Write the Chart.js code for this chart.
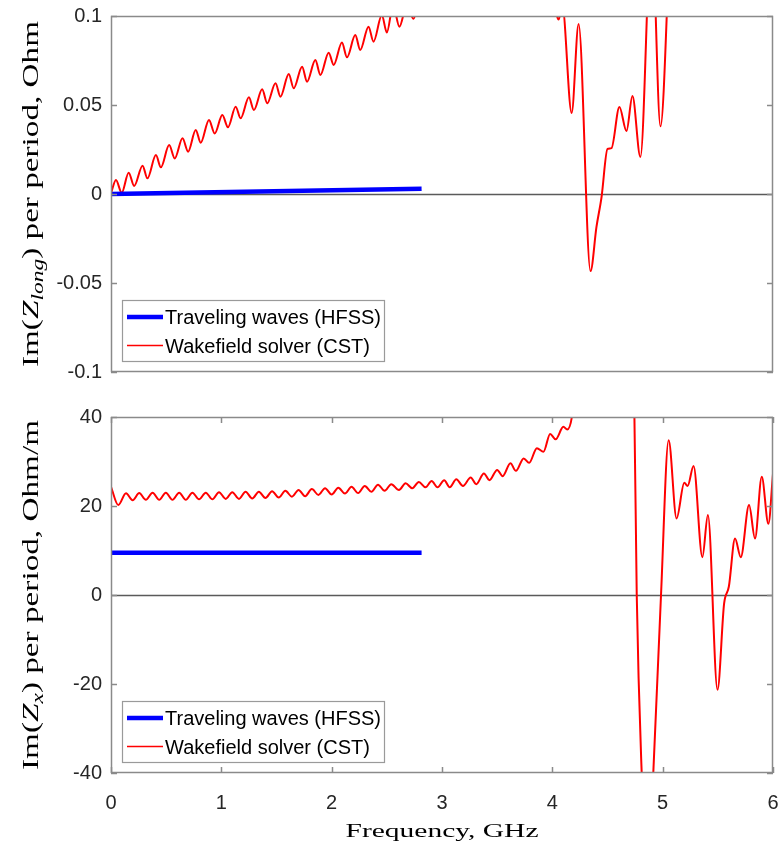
<!DOCTYPE html>
<html>
<head>
<meta charset="utf-8">
<script src="https://cdn.jsdelivr.net/npm/chart.js@4.4.1/dist/chart.umd.min.js"></script>
<style>
  html, body { margin: 0; padding: 0; background: #fff; }
  #wrap { position: relative; width: 783px; height: 842px; }
  canvas { position: absolute; left: 0; }
  #top { top: 0; }
  #bottom { top: 395px; }
</style>
</head>
<body>
<div id="wrap">
  <canvas id="top" width="783" height="395"></canvas>
  <canvas id="bottom" width="783" height="447"></canvas>
</div>
<script>
// axis ticks
const freqTicks = [0, 1, 2, 3, 4, 5, 6];
const zlongTicks = [-0.1, -0.05, 0, 0.05, 0.1];
const zxTicks = [-40, -20, 0, 20, 40];

// traveling waves (HFSS), both panels
const hfssFreq = [0, 2.815];
const hfssZlong = [0, 0.003];
const hfssZx = [9.5, 9.5];

// wakefield solver (CST), longitudinal; values above 0.1 run off the top of the axes
const cstFreqLong = [0, 0.045, 0.097, 0.16, 0.21, 0.286, 0.33, 0.407, 0.452, 0.527,
  0.578, 0.648, 0.699, 0.768, 0.813, 0.888, 0.94, 1.009, 1.06, 1.13,
  1.175, 1.25, 1.295, 1.37, 1.416, 1.491, 1.536, 1.611, 1.656, 1.732,
  1.777, 1.852, 1.898, 1.973, 2.018, 2.093, 2.139, 2.214, 2.259, 2.334,
  2.379, 2.455, 2.50, 2.557, 2.614, 2.68, 2.741, 2.80, 3.2, 3.7,
  4.0, 4.057, 4.09, 4.175, 4.238, 4.346, 4.40, 4.446, 4.50, 4.536,
  4.608, 4.672, 4.726, 4.798, 4.90, 4.98, 5.08, 5.4, 6.0];
const cstZlong = [0.0004, 0.0079, 0.0007, 0.012, 0.0045, 0.0159, 0.0088, 0.0219, 0.015, 0.0275,
  0.020, 0.0313, 0.0238, 0.036, 0.0288, 0.0416, 0.034, 0.0444, 0.0375, 0.049,
  0.0425, 0.0543, 0.0472, 0.0588, 0.051, 0.0622, 0.0547, 0.0674, 0.0594, 0.0715,
  0.0631, 0.0753, 0.0669, 0.0794, 0.0725, 0.0851, 0.0768, 0.0893, 0.0809, 0.094,
  0.0856, 0.1005, 0.0907, 0.106, 0.094, 0.106, 0.0985, 0.11, 0.14, 0.2,
  0.115, 0.098, 0.106, 0.0455, 0.0955, -0.0433, -0.0185, -0.0017, 0.0253, 0.0258,
  0.0489, 0.0354, 0.055, 0.0208, 0.15, 0.038, 0.16, 0.3, 0.3];

// wakefield solver (CST), transverse
const cstFreqX = [0, 0.066, 0.136, 0.196, 0.256, 0.316, 0.377, 0.437, 0.497, 0.557,
  0.618, 0.678, 0.738, 0.798, 0.859, 0.919, 0.979, 1.04, 1.099, 1.16,
  1.22, 1.28, 1.34, 1.40, 1.46, 1.52, 1.58, 1.64, 1.70, 1.76,
  1.82, 1.88, 1.94, 2.00, 2.06, 2.12, 2.18, 2.24, 2.30, 2.36,
  2.42, 2.48, 2.54, 2.61, 2.67, 2.73, 2.79, 2.85, 2.906, 2.96,
  3.02, 3.07, 3.13, 3.19, 3.26, 3.31, 3.38, 3.43, 3.50, 3.55,
  3.62, 3.67, 3.74, 3.79, 3.86, 3.92, 3.98, 4.03, 4.10, 4.135,
  4.18, 4.25, 4.45, 4.65, 4.72, 4.744, 4.765, 4.81, 4.862, 4.915,
  4.985, 5.054, 5.126, 5.196, 5.226, 5.28, 5.36, 5.41, 5.497, 5.557,
  5.60, 5.656, 5.708, 5.783, 5.837, 5.898, 5.958, 6.0];
const cstZx = [24.3, 20.2, 22.85, 21.3, 22.9, 21.4, 23.0, 21.4, 23.0, 21.4,
  23.0, 21.4, 23.0, 21.5, 23.0, 21.5, 23.1, 21.6, 23.1, 21.6,
  23.2, 21.7, 23.2, 21.8, 23.3, 21.9, 23.4, 22.1, 23.6, 22.2,
  23.8, 22.5, 24.0, 22.6, 24.1, 22.8, 24.3, 22.9, 24.5, 23.2,
  24.8, 23.4, 24.9, 23.6, 25.1, 24.0, 25.4, 24.2, 25.6, 24.2,
  25.8, 24.2, 26.0, 24.5, 26.4, 24.9, 27.3, 25.8, 28.1, 26.7,
  29.6, 27.9, 30.7, 29.7, 33.0, 32.2, 36.2, 35.0, 37.8, 37.2,
  40.5, 60, 120, 90, 52, 40, 0, -40, -65, -40,
  0, 34.8, 17.2, 25.2, 24.5, 29.0, 8.5, 18.0, -21.3, -1.9,
  1.9, 12.7, 8.5, 20.2, 12.7, 26.6, 16.0, 27.2];

const LABELS = ['Traveling waves (HFSS)', 'Wakefield solver (CST)'];
const BLUE = '#0000ff';
const RED = '#ff0000';
const SANS = '"Liberation Sans", Arial, sans-serif';
const SERIF = '"Liberation Serif", "Times New Roman", serif';

const toXY = (xs, ys) => xs.map((x, i) => ({x: x, y: ys[i]}));

// draws a run of text pieces (different fonts / offsets) centred on (cx, cy)
function drawRuns(ctx, runs, cx, cy, angle, length) {
  ctx.save();
  ctx.translate(cx, cy);
  ctx.rotate(angle);
  let total = 0;
  runs.forEach(r => { ctx.font = r.font; r.w = ctx.measureText(r.text).width; total += r.w; });
  ctx.scale(length / total, 1);
  ctx.fillStyle = '#000';
  ctx.textBaseline = 'alphabetic';
  ctx.textAlign = 'left';
  let x = -total / 2;
  runs.forEach(r => { ctx.font = r.font; ctx.fillText(r.text, x, r.dy || 0); x += r.w; });
  ctx.restore();
}

// MATLAB-like axes box: zero line, frame with inward ticks, inset legend and axis titles
const axesBox = {
  id: 'axesBox',
  beforeDatasetsDraw(chart) {
    const {ctx, chartArea: a, scales} = chart;
    const y0 = Math.round(scales.y.getPixelForValue(0)) + 0.5;
    ctx.save();
    ctx.strokeStyle = '#5a5a5a';
    ctx.lineWidth = 1.3;
    ctx.beginPath();
    ctx.moveTo(a.left, y0);
    ctx.lineTo(a.right, y0);
    ctx.stroke();
    ctx.restore();
  },
  afterDatasetsDraw(chart, args, opts) {
    const {ctx, chartArea: a, scales} = chart;
    ctx.save();
    ctx.strokeStyle = '#8a8a8a';
    ctx.lineWidth = 1.5;
    ctx.strokeRect(a.left + 0.5, a.top + 0.5, a.right - a.left - 1, a.bottom - a.top - 1);
    const tl = 6;
    ctx.beginPath();
    scales.y.ticks.forEach(t => {
      const py = Math.round(scales.y.getPixelForValue(t.value)) + 0.5;
      ctx.moveTo(a.left, py); ctx.lineTo(a.left + tl, py);
      ctx.moveTo(a.right, py); ctx.lineTo(a.right - tl, py);
    });
    if (opts.xTicks) {
      scales.x.ticks.forEach(t => {
        const px = Math.round(scales.x.getPixelForValue(t.value)) + 0.5;
        ctx.moveTo(px, a.top); ctx.lineTo(px, a.top + tl);
        ctx.moveTo(px, a.bottom); ctx.lineTo(px, a.bottom - tl);
      });
    }
    ctx.stroke();

    // legend in the lower left corner
    const bx = a.left + 11, bh = 61, by = a.bottom - 11 - bh, bw = 262;
    ctx.fillStyle = '#fff';
    ctx.fillRect(bx, by, bw, bh);
    ctx.strokeStyle = '#9a9a9a';
    ctx.lineWidth = 1.2;
    ctx.strokeRect(bx + 0.5, by + 0.5, bw, bh);
    chart.data.datasets.forEach((ds, i) => {
      const cy = by + 17 + i * 28.5;
      ctx.strokeStyle = ds.borderColor;
      ctx.lineWidth = ds.legendWidth;
      ctx.beginPath();
      ctx.moveTo(bx + 5, cy);
      ctx.lineTo(bx + 41, cy);
      ctx.stroke();
      ctx.fillStyle = '#000';
      ctx.font = '20px ' + SANS;
      ctx.textBaseline = 'alphabetic';
      ctx.fillText(ds.label, bx + 43, cy + 7);
    });
    ctx.restore();

    // y axis title
    const cy = (a.top + a.bottom) / 2;
    drawRuns(ctx, opts.yTitle, 38, cy, -Math.PI / 2, opts.yTitleLength);
    if (opts.xTitle) {
      drawRuns(ctx, [{text: opts.xTitle, font: '19px ' + SERIF}],
        (a.left + a.right) / 2, chart.height - 5, 0, 193);
    }
  }
};

function yScale(ticks) {
  return {
    type: 'linear',
    min: ticks[0],
    max: ticks[ticks.length - 1],
    afterBuildTicks: s => { s.ticks = ticks.map(v => ({value: v})); },
    afterFit: s => { s.width = 111; s.paddingTop = 0; s.paddingBottom = 0; },
    grid: {display: false, drawTicks: false},
    border: {display: false},
    ticks: {
      font: {family: SANS, size: 20},
      color: '#262626',
      padding: 9,
      callback: v => String(v)
    }
  };
}

function xScale(show) {
  return {
    type: 'linear',
    min: 0,
    max: 6,
    display: show,
    afterBuildTicks: s => { s.ticks = freqTicks.map(v => ({value: v})); },
    afterFit: s => {
      s.height = show ? 69 : 0;
      s.paddingLeft = 0;
      s.paddingRight = 0;
    },
    grid: {display: false, drawTicks: false},
    border: {display: false},
    ticks: {
      font: {family: SANS, size: 20},
      color: '#262626',
      padding: 18,
      maxRotation: 0,
      callback: v => String(v)
    }
  };
}

function lineSets(hfssY, cstX, cstY) {
  return [
    {label: LABELS[0], data: toXY(hfssFreq, hfssY), borderColor: BLUE, borderWidth: 4.5,
      legendWidth: 4.5, pointRadius: 0, tension: 0},
    {label: LABELS[1], data: toXY(cstX, cstY), borderColor: RED, borderWidth: 2,
      legendWidth: 1.6, pointRadius: 0, cubicInterpolationMode: 'monotone'}
  ];
}

const common = {
  responsive: false,
  animation: false,
  devicePixelRatio: 1,
  plugins: {legend: {display: false}, tooltip: {enabled: false}}
};

new Chart(document.getElementById('top'), {
  type: 'line',
  data: {datasets: lineSets(hfssZlong, cstFreqLong, cstZlong)},
  options: Object.assign({}, common, {
    layout: {padding: {top: 16, right: 10, bottom: 23, left: 0}},
    scales: {x: xScale(false), y: yScale(zlongTicks)},
    plugins: Object.assign({}, common.plugins, {
      axesBox: {
        xTicks: false,
        yTitleLength: 346,
        yTitle: [
          {text: 'Im(', font: '24px ' + SERIF},
          {text: 'Z', font: 'italic 24px ' + SERIF},
          {text: 'long', font: 'italic 17px ' + SERIF, dy: 5},
          {text: ') per period, Ohm', font: '24px ' + SERIF}
        ]
      }
    })
  }),
  plugins: [axesBox]
});

new Chart(document.getElementById('bottom'), {
  type: 'line',
  data: {datasets: lineSets(hfssZx, cstFreqX, cstZx)},
  options: Object.assign({}, common, {
    layout: {padding: {top: 22, right: 10, bottom: 0, left: 0}},
    scales: {x: xScale(true), y: yScale(zxTicks)},
    plugins: Object.assign({}, common.plugins, {
      axesBox: {
        xTicks: true,
        yTitleLength: 350,
        xTitle: 'Frequency, GHz',
        yTitle: [
          {text: 'Im(', font: '24px ' + SERIF},
          {text: 'Z', font: 'italic 24px ' + SERIF},
          {text: 'x', font: 'italic 17px ' + SERIF, dy: 5},
          {text: ') per period, Ohm/m', font: '24px ' + SERIF}
        ]
      }
    })
  }),
  plugins: [axesBox]
});
</script>
</body>
</html>
